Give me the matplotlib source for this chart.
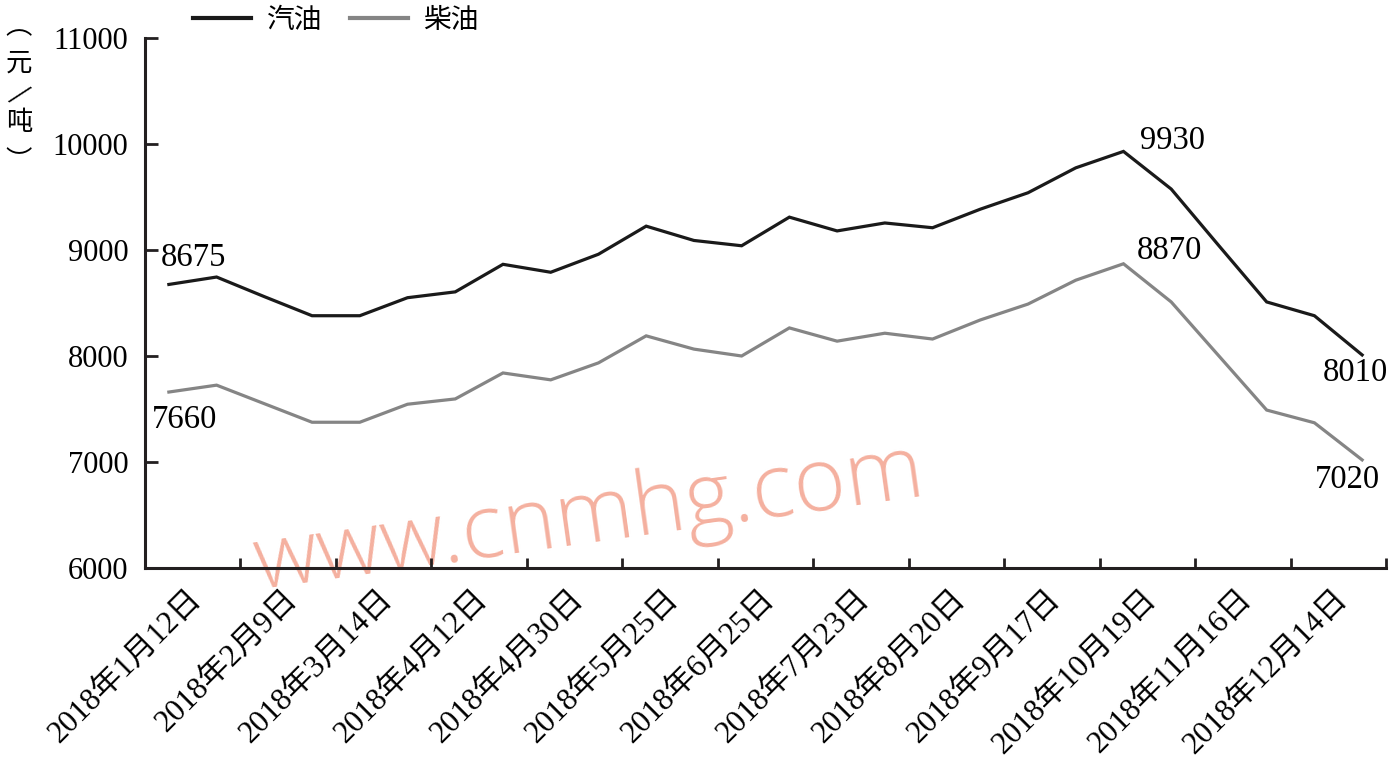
import matplotlib
matplotlib.use("Agg")
import matplotlib.pyplot as plt
import numpy as np

dates = ["2018年1月12日", "2018年1月26日", "2018年2月9日", "2018年2月28日",
         "2018年3月14日", "2018年3月28日", "2018年4月12日", "2018年4月20日",
         "2018年4月30日", "2018年5月14日", "2018年5月25日", "2018年6月8日",
         "2018年6月25日", "2018年7月9日", "2018年7月23日", "2018年8月6日",
         "2018年8月20日", "2018年9月3日", "2018年9月17日", "2018年9月30日",
         "2018年10月19日", "2018年11月2日", "2018年11月16日", "2018年11月30日",
         "2018年12月14日", "2018年12月28日"]
gasoline = [8675, 8745, 8560, 8380, 8380, 8550, 8605, 8865, 8790, 8960,
            9225, 9090, 9040, 9310, 9180, 9255, 9210, 9385, 9540, 9775,
            9930, 9575, 9040, 8510, 8380, 8010]
diesel = [7660, 7725, 7550, 7375, 7375, 7545, 7595, 7840, 7775, 7935,
          8190, 8065, 8000, 8265, 8140, 8215, 8160, 8340, 8490, 8715,
          8870, 8510, 8000, 7490, 7370, 7020]
series_names = ["汽油", "柴油"]
yticks = [6000, 7000, 8000, 9000, 10000, 11000]
annotated = [(0, "gas"), (0, "die"), (20, "gas"), (20, "die"), (25, "gas"), (25, "die")]

FAM = ["Liberation Serif", "Noto Sans CJK SC", "DejaVu Sans"]
plt.rcParams["font.family"] = FAM

W, H = 1390, 765
fig = plt.figure(figsize=(W / 100, H / 100), dpi=100)
ax = fig.add_axes([145 / W, 1 - 568 / H, (1386 - 145) / W, (568 - 38) / H])
ax.patch.set_alpha(0)

x = np.arange(len(dates))
c_gas = "#1a1a1a"
c_die = "#858585"
l1, = ax.plot(x, gasoline, color=c_gas, lw=2.3, zorder=3, solid_joinstyle="miter")
l2, = ax.plot(x, diesel, color=c_die, lw=2.3, zorder=3, solid_joinstyle="miter")

ax.set_xlim(-0.5, len(dates) - 0.5)
ax.set_ylim(6000, 11000)
ax.set_yticks(yticks)
ax.set_yticklabels([str(v) for v in yticks], fontsize=22, family=FAM)

for s in ["top", "right"]:
    ax.spines[s].set_visible(False)
for s in ["left", "bottom"]:
    ax.spines[s].set_linewidth(2.2)
    ax.spines[s].set_color("#231f20")
    ax.spines[s].set_zorder(4)

ax.tick_params(axis="y", direction="in", length=9, width=2, pad=12, colors="#231f20")
ax.tick_params(axis="y", labelcolor="black")

# category labels centred on every second tick interval
lab_pos = x[::2] + 0.6
ax.set_xticks(lab_pos)
ax.set_xticklabels(dates[::2], fontsize=22.5, family=FAM, rotation=45,
                   rotation_mode="anchor", ha="right", va="center")
ax.tick_params(axis="x", which="major", length=0, pad=19)
ax.set_xticks(np.arange(-0.5, len(dates), 2)[1:], minor=True)
ax.tick_params(axis="x", which="minor", direction="in", length=7, width=2, colors="#231f20")

# value annotations
offsets = {
    (0, "gas"): (-8, 27, "left"),
    (0, "die"): (-17, -28, "left"),
    (20, "gas"): (17, 11, "left"),
    (20, "die"): (13, 13, "left"),
    (25, "gas"): (-7, -18, "center"),
    (25, "die"): (-15, -20, "center"),
}
for idx, key in annotated:
    yv = gasoline[idx] if key == "gas" else diesel[idx]
    dx, dy, ha = offsets[(idx, key)]
    ax.annotate(str(yv), (idx, yv), xytext=(dx, dy), textcoords="offset pixels",
                ha=ha, va="center", fontsize=23.5, family=FAM, zorder=5)

# legend
leg = fig.legend([l1, l2], series_names, loc="center", bbox_to_anchor=(336 / W, 1 - 20 / H),
                 ncol=2, frameon=False, prop={"family": ["Noto Sans CJK SC"], "size": 20},
                 handlelength=2.1, handletextpad=0.55, columnspacing=1.0, borderpad=0)
for h in leg.legend_handles:
    h.set_linewidth(3)

# vertical y-axis unit label (vertical-form brackets sit off-centre in their em box)
unit_chars = [("︵", 27, 0), ("元", 63, 0), ("/", 95, -40), ("吨", 122, 0), ("︶", 162, 0)]
for ch, yy, rot in unit_chars:
    fig.text(19 / W, 1 - yy / H, ch, ha="center", va="center", fontsize=19,
             family=["Noto Sans CJK SC", "DejaVu Sans"], rotation=rot)

# watermark (display pixel coordinates, origin bottom-left)
ax.text(258, H - 589, "www.cnmhg.com", transform=None, fontsize=64,
        family=["Open Sans", "DejaVu Sans"], fontweight="light", color="#f3a28e",
        alpha=0.85, rotation=8, rotation_mode="anchor", ha="left", va="baseline",
        zorder=1.5, clip_on=False)

fig.savefig("out.png", dpi=100)
